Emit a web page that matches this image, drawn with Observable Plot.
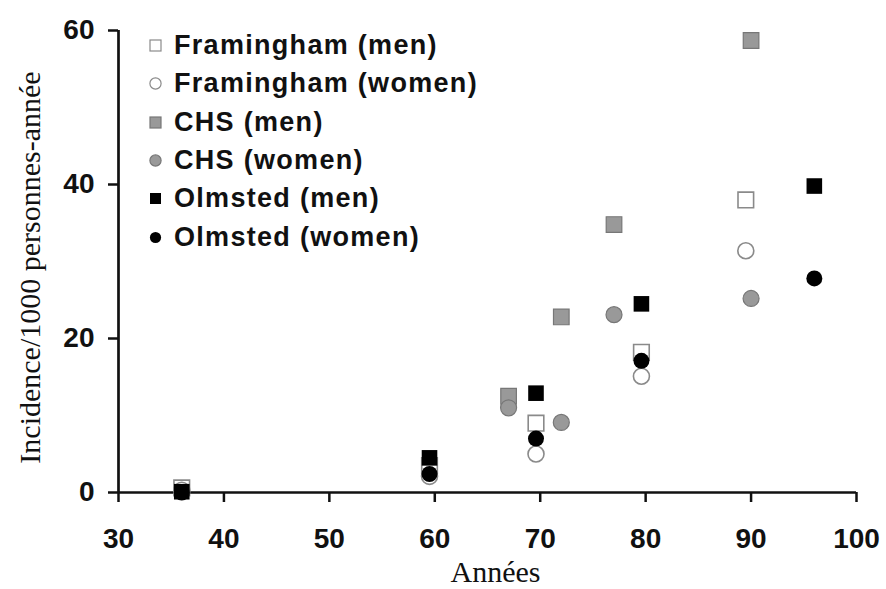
<!DOCTYPE html>
<html>
<head>
<meta charset="utf-8">
<script src="https://cdn.jsdelivr.net/npm/d3@7"></script>
<script src="https://cdn.jsdelivr.net/npm/@observablehq/plot@0.6"></script>
<style>
  html, body { margin: 0; padding: 0; background: #fff; }
  #wrap { position: relative; width: 886px; height: 589px; overflow: hidden; }
  #legend { position: absolute; left: 0; top: 0; font-family: "Liberation Sans", Arial, sans-serif; font-weight: bold; font-size: 27px; color: #111; letter-spacing: 1.3px; }
  .row { position: absolute; height: 30px; line-height: 30px; white-space: nowrap; }
  .row svg { position: absolute; left: 0; top: 9px; }
  .row span { position: absolute; left: 25px; top: 0; }
</style>
</head>
<body>
<div id="wrap"><div id="legend"></div></div>
<script>
// ---- data ----
const seriesNames = ["Framingham (men)", "Framingham (women)", "CHS (men)", "CHS (women)", "Olmsted (men)", "Olmsted (women)"];
const framinghamMenAge   = [36, 59.5, 69.6, 79.6, 89.5];
const framinghamMenVal   = [0.6, 3.5, 9.0, 18.2, 38.0];
const framinghamWomenAge = [36, 59.5, 69.6, 79.6, 89.5];
const framinghamWomenVal = [0.3, 2.1, 5.0, 15.1, 31.4];
const chsMenAge          = [67, 72, 77, 90];
const chsMenVal          = [12.5, 22.8, 34.8, 58.7];
const chsWomenAge        = [67, 72, 77, 90];
const chsWomenVal        = [11.0, 9.1, 23.1, 25.2];
const olmstedMenAge      = [36, 59.5, 69.6, 79.6, 96];
const olmstedMenVal      = [0.1, 4.5, 12.9, 24.5, 39.8];
const olmstedWomenAge    = [36, 59.5, 69.6, 79.6, 96];
const olmstedWomenVal    = [0.0, 2.4, 7.0, 17.1, 27.8];
const xTicks = [30, 40, 50, 60, 70, 80, 90, 100];
const yTicks = [0, 20, 40, 60];
const xLabel = "Années";
const yLabel = "Incidence/1000 personnes-année";

// ---- styles per series ----
const styles = [
  {symbol: "square", fill: "#ffffff", stroke: "#8a8a8a", strokeWidth: 1.6},
  {symbol: "circle", fill: "#ffffff", stroke: "#8a8a8a", strokeWidth: 1.6},
  {symbol: "square", fill: "#999999", stroke: "#777777", strokeWidth: 1.2},
  {symbol: "circle", fill: "#999999", stroke: "#777777", strokeWidth: 1.2},
  {symbol: "square", fill: "#000000", stroke: "none", strokeWidth: 0},
  {symbol: "circle", fill: "#000000", stroke: "none", strokeWidth: 0}
];
const ages = [framinghamMenAge, framinghamWomenAge, chsMenAge, chsWomenAge, olmstedMenAge, olmstedWomenAge];
const vals = [framinghamMenVal, framinghamWomenVal, chsMenVal, chsWomenVal, olmstedMenVal, olmstedWomenVal];
const table = seriesNames.map((s, i) => ages[i].map((a, j) => ({series: s, age: a, value: vals[i][j]})));

const dotMarks = table.map((rows, i) => Plot.dot(rows, {
  x: "age", y: "value",
  symbol: styles[i].symbol,
  r: styles[i].symbol === "square" ? 8.8 : 8,
  fill: styles[i].fill,
  stroke: styles[i].stroke,
  strokeWidth: styles[i].strokeWidth
}));

const chart = Plot.plot({
  width: 886,
  height: 589,
  marginLeft: 118,
  marginRight: 30,
  marginTop: 30,
  marginBottom: 97,
  x: {domain: [30, 100]},
  y: {domain: [0, 60]},
  style: {fontFamily: "'Liberation Sans', Arial, sans-serif", fontSize: "28px", fontWeight: "bold", color: "#111", background: "#fff", overflow: "visible"},
  marks: [
    Plot.axisX({ticks: xTicks, tickSize: 10, tickPadding: 26, strokeWidth: 2.5, label: null, tickFormat: d => String(d)}),
    Plot.axisY({ticks: yTicks, tickSize: 10, tickPadding: 14, strokeWidth: 2.5, label: null, tickFormat: d => String(d)}),
    Plot.ruleY([0], {stroke: "#111", strokeWidth: 2.7}),
    Plot.ruleX([30], {stroke: "#111", strokeWidth: 2.7}),
    ...dotMarks,
    Plot.text([xLabel], {text: d => d, frameAnchor: "bottom", textAnchor: "middle", dx: 8, dy: 80, lineAnchor: "middle", fontFamily: "'Liberation Serif', 'Times New Roman', serif", fontSize: 30, fontWeight: "normal", fill: "#111"}),
    Plot.text([yLabel], {text: d => d, frameAnchor: "left", textAnchor: "middle", rotate: -90, dx: -88, dy: 6, lineAnchor: "middle", fontFamily: "'Liberation Serif', 'Times New Roman', serif", fontSize: 30, fontWeight: "normal", fill: "#111"})
  ]
});
const wrap = document.getElementById("wrap");
wrap.insertBefore(chart, wrap.firstChild);

// ---- legend overlay ----
const legend = document.getElementById("legend");
seriesNames.forEach((name, i) => {
  const st = styles[i];
  const row = document.createElement("div");
  row.className = "row";
  row.style.left = "149px";
  row.style.top = (30 + i * 38.3) + "px";
  const shape = st.symbol === "square"
    ? `<rect x="1" y="1" width="11" height="11" fill="${st.fill}" stroke="${st.stroke}" stroke-width="${st.strokeWidth ? 1.2 : 0}"/>`
    : `<circle cx="6.5" cy="6.5" r="5.6" fill="${st.fill}" stroke="${st.stroke}" stroke-width="${st.strokeWidth ? 1.2 : 0}"/>`;
  row.innerHTML = `<svg width="13" height="13">${shape}</svg><span>${name}</span>`;
  legend.appendChild(row);
});
</script>
</body>
</html>
